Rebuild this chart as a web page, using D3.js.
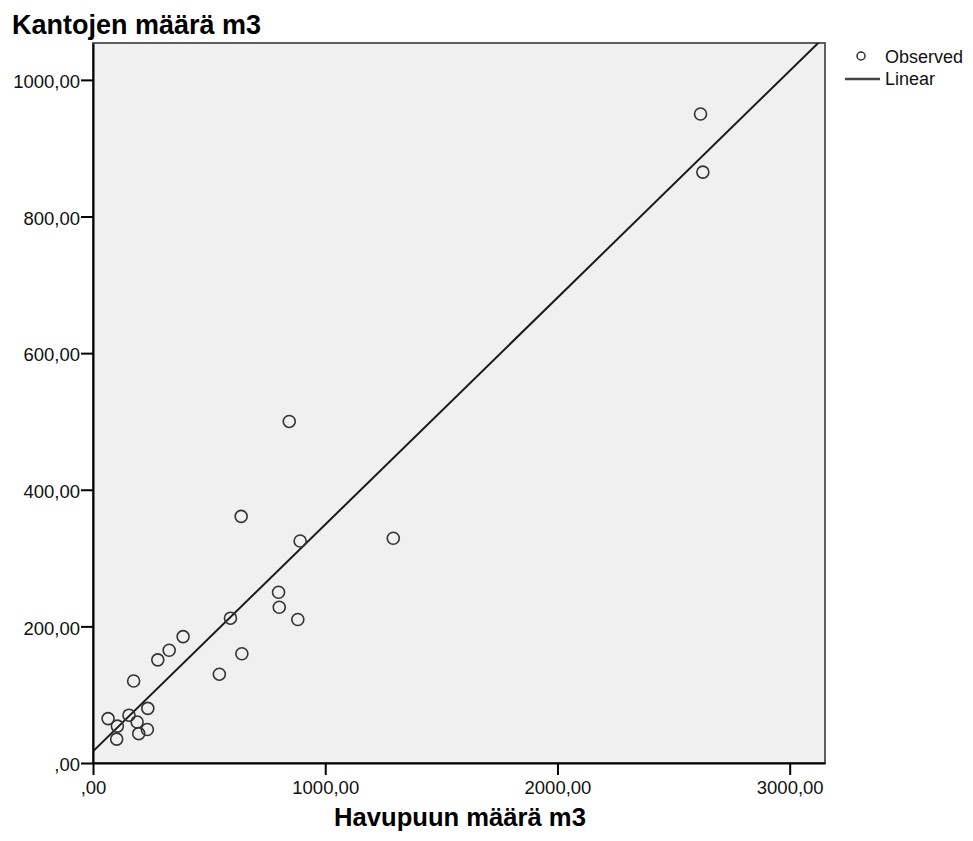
<!DOCTYPE html>
<html>
<head>
<meta charset="utf-8">
<script src="https://cdn.jsdelivr.net/npm/d3@7"></script>
<style>
  body { margin: 0; background: #fff; }
  text { font-family: "Liberation Sans", Arial, sans-serif; }
</style>
</head>
<body>
<div id="chart"></div>
<script>
// havupuun määrä (x) ja kantojen määrä (y), luettu kuvasta
var havupuu = [2616, 2626, 845, 638, 892, 1293, 799, 802, 882, 592, 388, 328,
               279, 641, 544, 175, 236, 65, 155, 190, 105, 234, 197, 102];
var kannot  = [950, 865, 500, 361, 325, 329, 250, 228, 210, 212, 185, 165,
               151, 160, 130, 120, 80, 65, 70, 60, 54, 49, 43, 35];
var xTicks = [0, 1000, 2000, 3000];
var yTicks = [0, 200, 400, 600, 800, 1000];
var legendItems = ["Observed", "Linear"];

var W = 973, H = 841;
var plot = {left: 93, right: 825, top: 43, bottom: 763};

var svg = d3.select("#chart").append("svg")
    .attr("width", W).attr("height", H);

var x = d3.scaleLinear().domain([0, 3152]).range([plot.left, plot.right]);
var y = d3.scaleLinear().domain([0, 1054]).range([plot.bottom, plot.top]);

var fmt = function(v){ return v === 0 ? ",00" : v.toFixed(2).replace(".", ","); };

// plot background + grey frame (top/right)
svg.append("rect")
    .attr("x", plot.left).attr("y", plot.top)
    .attr("width", plot.right - plot.left).attr("height", plot.bottom - plot.top)
    .attr("fill", "#f0f0f0")
    .attr("stroke", "#5f5f5f").attr("stroke-width", 2);

// least squares fit
var mx = d3.mean(havupuu), my = d3.mean(kannot);
var sxy = d3.sum(havupuu, (d, i) => (d - mx) * (kannot[i] - my));
var sxx = d3.sum(havupuu, d => (d - mx) * (d - mx));
var slope = sxy / sxx, intercept = my - slope * mx;
console.log(slope, intercept);

svg.append("clipPath").attr("id", "clip")
  .append("rect")
    .attr("x", plot.left).attr("y", plot.top)
    .attr("width", plot.right - plot.left).attr("height", plot.bottom - plot.top);

var xEnd = x.domain()[1];
svg.append("line")
    .attr("clip-path", "url(#clip)")
    .attr("x1", x(0)).attr("y1", y(intercept))
    .attr("x2", x(xEnd)).attr("y2", y(intercept + slope * xEnd))
    .attr("stroke", "#1a1a1a").attr("stroke-width", 2);

svg.selectAll("circle.obs")
    .data(havupuu)
  .enter().append("circle")
    .attr("class", "obs")
    .attr("cx", d => x(d))
    .attr("cy", (d, i) => y(kannot[i]))
    .attr("r", 6)
    .attr("fill", "none")
    .attr("stroke", "#333")
    .attr("stroke-width", 1.6);

// axes
var xAxis = svg.append("g")
    .attr("transform", "translate(0," + plot.bottom + ")")
    .call(d3.axisBottom(x).tickValues(xTicks).tickFormat(fmt).tickSize(12).tickSizeOuter(0).tickPadding(6));
var yAxis = svg.append("g")
    .attr("transform", "translate(" + plot.left + ",0)")
    .call(d3.axisLeft(y).tickValues(yTicks).tickFormat(fmt).tickSize(12).tickSizeOuter(0).tickPadding(1));

[xAxis, yAxis].forEach(function(g){
  g.select(".domain").attr("stroke", "#000").attr("stroke-width", 2);
  g.selectAll(".tick line").attr("stroke", "#000").attr("stroke-width", 2);
  g.selectAll(".tick text")
    .attr("fill", "#111")
    .style("font-size", "18.5px")
    .style("font-family", "'Liberation Sans', Arial, sans-serif");
});
yAxis.selectAll(".tick text").attr("dy", "0.42em");

// titles
svg.append("text")
    .attr("x", 12).attr("y", 34)
    .style("font-size", "27px").style("font-weight", "bold")
    .attr("fill", "#000")
    .text("Kantojen määrä m3");

svg.append("text")
    .attr("x", 460).attr("y", 826)
    .attr("text-anchor", "middle")
    .style("font-size", "25.6px").style("font-weight", "bold")
    .attr("fill", "#000")
    .text("Havupuun määrä m3");

// legend
var leg = svg.append("g");
leg.append("circle")
    .attr("cx", 861).attr("cy", 56).attr("r", 4)
    .attr("fill", "none").attr("stroke", "#333").attr("stroke-width", 1.5);
leg.append("line")
    .attr("x1", 845).attr("x2", 880).attr("y1", 79).attr("y2", 79)
    .attr("stroke", "#444").attr("stroke-width", 2.5);
leg.selectAll("text.leg")
    .data(legendItems)
  .enter().append("text")
    .attr("class", "leg")
    .attr("x", 885)
    .attr("y", (d, i) => 63 + i * 22)
    .style("font-size", "18px")
    .attr("fill", "#111")
    .text(d => d);
</script>
</body>
</html>
